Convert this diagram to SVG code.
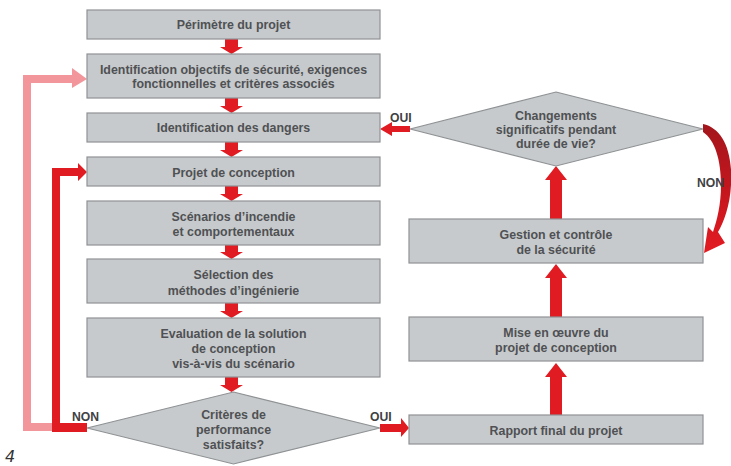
<svg xmlns="http://www.w3.org/2000/svg" width="731" height="466" viewBox="0 0 731 466">
<defs>
<style>
.box{fill:#c7cacc;stroke:#8f9294;stroke-width:1.2}
.t{font-family:"Liberation Sans",Arial,sans-serif;font-weight:bold;font-size:12.4px;fill:#4f5154;text-anchor:middle}
.lbl{font-family:"Liberation Sans",Arial,sans-serif;font-weight:bold;font-size:12.2px;fill:#3f4144}
.red{fill:#e01b22}
.pink{fill:#f2969c}
</style>
<linearGradient id="gNon" x1="0" y1="124" x2="0" y2="257" gradientUnits="userSpaceOnUse">
<stop offset="0" stop-color="#a3161c"/>
<stop offset="0.5" stop-color="#c4161e"/>
<stop offset="1" stop-color="#e61b22"/>
</linearGradient>
</defs>
<rect width="731" height="466" fill="#ffffff"/>

<g id="connectors">
<path class="red" d="M225,39H238V47H243L231.5,54L220,47H225Z"/>
<path class="red" d="M225,98H238V106H243L231.5,113L220,106H225Z"/>
<path class="red" d="M225,142H238V150H243L231.5,157L220,150H225Z"/>
<path class="red" d="M225,186H238V194H243L231.5,201L220,194H225Z"/>
<path class="red" d="M225,245H238V252H243L231.5,259L220,252H225Z"/>
<path class="red" d="M225,303H238V311H243L231.5,318L220,311H225Z"/>
<path class="red" d="M225,377H238V385H243L231.5,392L220,385H225Z"/>
<path class="pink" d="M23,431V75H72V68L87,79L72,88V83H31V423H52V431Z"/>
<path class="red" d="M87,423V432H52V168H78V163L87,172L78,181V176H60V423Z"/>
<path class="red" d="M380,424H401V418L409,428L401,437V432H380Z"/>
<path class="red" d="M550,415V377H545L556,363L567,377H562V415Z"/>
<path class="red" d="M550,317V278H545L556,264L567,278H562V317Z"/>
<path class="red" d="M550,219V180H545L556,166L567,180H562V219Z"/>
<path class="red" d="M410,126V132H392V136L380,129L392,122V126Z"/>
<path fill="url(#gNon)" d="M703,124C722,128 733,150 731,185C730,205 724,222 718,232L725,243L704,253L708,227L713,232C717,220 721,205 721,185C721,160 715,140 703,132Z"/>
</g>

<g id="n1"><rect class="box" x="87" y="10" width="293" height="29"/><text class="t" x="233.5" y="29">Périmètre du projet</text></g>
<g id="n2"><rect class="box" x="87" y="54" width="293" height="44"/><text class="t" x="233.5" y="74">Identification objectifs de sécurité, exigences</text><text class="t" x="233.5" y="88">fonctionnelles et critères associés</text></g>
<g id="n3"><rect class="box" x="87" y="113" width="293" height="29"/><text class="t" x="233.5" y="132">Identification des dangers</text></g>
<g id="n4"><rect class="box" x="87" y="157" width="293" height="29"/><text class="t" x="233.5" y="176.5">Projet de conception</text></g>
<g id="n5"><rect class="box" x="87" y="201" width="293" height="44"/><text class="t" x="233.5" y="220.5">Scénarios d’incendie</text><text class="t" x="233.5" y="236">et comportementaux</text></g>
<g id="n6"><rect class="box" x="87" y="259" width="293" height="44"/><text class="t" x="233.5" y="279">Sélection des</text><text class="t" x="233.5" y="294.5">méthodes d’ingénierie</text></g>
<g id="n7"><rect class="box" x="87" y="318" width="293" height="59"/><text class="t" x="233.5" y="337.5">Evaluation de la solution</text><text class="t" x="233.5" y="352.5">de conception</text><text class="t" x="233.5" y="367.5">vis-à-vis du scénario</text></g>
<g id="d1"><polygon class="box" points="233.5,392 380,428 233.5,464 87,428"/><text class="t" x="233.5" y="418.5">Critères de</text><text class="t" x="233.5" y="433.5">performance</text><text class="t" x="233.5" y="449">satisfaits?</text></g>
<g id="n8"><rect class="box" x="409" y="415" width="294" height="29"/><text class="t" x="556" y="435">Rapport final du projet</text></g>
<g id="n9"><rect class="box" x="409" y="317" width="294" height="44"/><text class="t" x="556" y="337">Mise en œuvre du</text><text class="t" x="556" y="351.5">projet de conception</text></g>
<g id="n10"><rect class="box" x="409" y="219" width="294" height="44"/><text class="t" x="556" y="239">Gestion et contrôle</text><text class="t" x="556" y="253.5">de la sécurité</text></g>
<g id="d2"><polygon class="box" points="556,92 703,129 556,166 410,129"/><text class="t" x="556" y="119.5">Changements</text><text class="t" x="556" y="133.5">significatifs pendant</text><text class="t" x="556" y="147.5">durée de vie?</text></g>

<g id="labels">
<text class="lbl" x="390" y="121.5">OUI</text>
<text class="lbl" x="697" y="186.5">NON</text>
<text class="lbl" x="370" y="421">OUI</text>
<text class="lbl" x="72" y="421">NON</text>
<text x="5" y="462" font-family="'DejaVu Sans',sans-serif" font-style="italic" font-size="16" fill="#333">4</text>
</g>
</svg>
